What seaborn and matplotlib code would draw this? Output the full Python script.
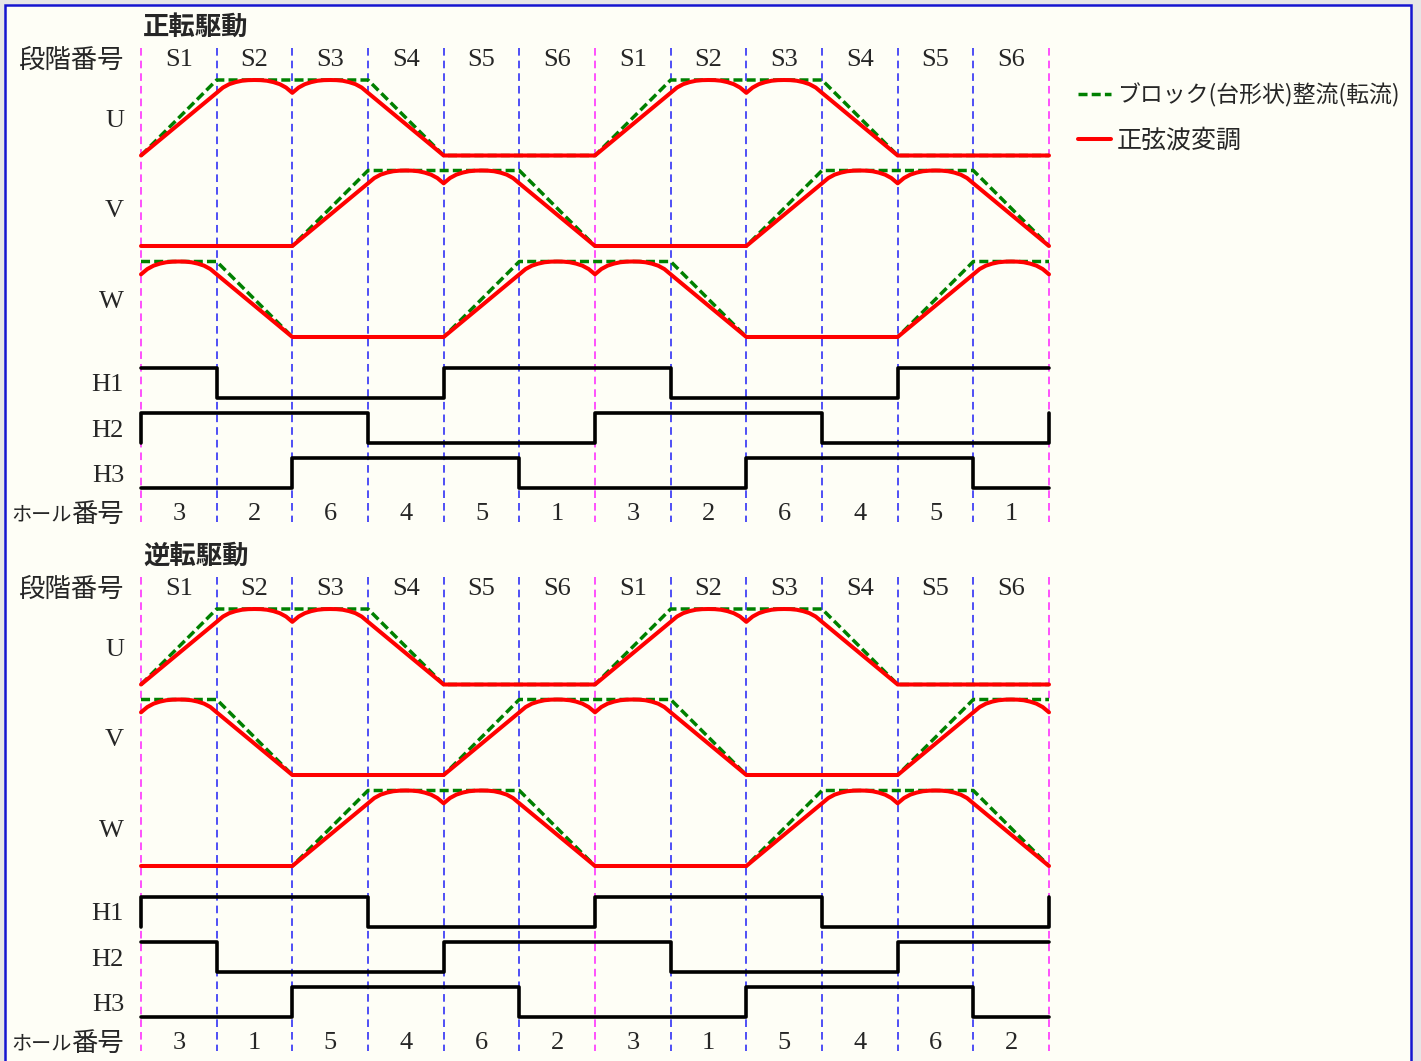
import numpy as np
import pandas as pd
import matplotlib
matplotlib.use("Agg")
import matplotlib.pyplot as plt
from matplotlib.patches import Rectangle
import seaborn as sns

# ---------------- data ----------------
stage_labels = ["S1", "S2", "S3", "S4", "S5", "S6"]
block_titles = ["正転駆動", "逆転駆動"]
phase_names = ["U", "V", "W"]
hall_names = ["H1", "H2", "H3"]
row_label_stage = "段階番号"
row_label_hall_kana = "ホール"
row_label_hall_kanji = "番号"
legend_block = "ブロック(台形状)整流(転流)"
legend_sine = "正弦波変調"

# block (trapezoid) commutation level at stage boundaries 0..6 of one period
trap_fwd_U = [0, 1, 1, 1, 0, 0, 0]
trap_fwd_V = [0, 0, 0, 1, 1, 1, 0]
trap_fwd_W = [1, 1, 0, 0, 0, 1, 1]
trap_rev_U = [0, 1, 1, 1, 0, 0, 0]
trap_rev_V = [1, 1, 0, 0, 0, 1, 1]
trap_rev_W = [0, 0, 0, 1, 1, 1, 0]

# sine modulation waveform (fraction of full swing)
red_ramp_up = [0.0, 0.83]
red_hump = [0.83, 0.90, 0.945, 0.972, 0.99, 0.998, 1.0, 0.998, 0.99, 0.972, 0.945, 0.90, 0.83]
red_ramp_down = [0.83, 0.0]
red_low = [0.0, 0.0]
# stage (0-based) where each phase U, V, W starts rising
rise_stage_fwd = [0, 2, 4]
rise_stage_rev = [0, 4, 2]

# Hall sensor levels for stages S1..S6
hall_fwd_H1 = [1, 0, 0, 0, 1, 1]
hall_fwd_H2 = [1, 1, 1, 0, 0, 0]
hall_fwd_H3 = [0, 0, 1, 1, 1, 0]
hall_rev_H1 = [1, 1, 1, 0, 0, 0]
hall_rev_H2 = [1, 0, 0, 0, 1, 1]
hall_rev_H3 = [0, 0, 1, 1, 1, 0]

hall_no_fwd = [3, 2, 6, 4, 5, 1]
hall_no_rev = [3, 1, 5, 4, 6, 2]

n_periods = 2

# ---------------- style / layout ----------------
sns.set_style("white")
plt.rcParams["font.family"] = ["Noto Sans CJK JP", "DejaVu Sans"]
plt.rcParams["lines.scale_dashes"] = False
plt.rcParams["lines.solid_joinstyle"] = "round"
JP = ["Noto Sans CJK JP", "DejaVu Sans"]
SERIF = ["Liberation Serif", "DejaVu Serif"]

W_PX, H_PX = 1421, 1061
X0_PX, X1_PX = 141, 1049
n_st = 6 * n_periods
spx = (X1_PX - X0_PX) / n_st


def xd(px):
    return (px - X0_PX) / spx


BLOCK_OFF = [0, 529]
WAVE_LO = [155.5, 246, 337]
WAVE_AMP = 75.5
HALL_LO = [397.5, 443, 488]
HALL_AMP = 30
TXT_DY = 2
Y_TITLE, Y_STAGE, Y_HALLNO = 25, 58, 512
WAVE_LABEL_Y = [119, 209, 300]
HALL_LABEL_Y = [383, 429, 474]
VL_TOP, VL_BOT = 48, 522
LABEL_X = 124

red_segments = [red_ramp_up, red_hump, red_hump, red_ramp_down, red_low, red_low]

blocks = [
    dict(title=block_titles[0], trap=[trap_fwd_U, trap_fwd_V, trap_fwd_W],
         rise=rise_stage_fwd, hall=[hall_fwd_H1, hall_fwd_H2, hall_fwd_H3],
         hallno=hall_no_fwd),
    dict(title=block_titles[1], trap=[trap_rev_U, trap_rev_V, trap_rev_W],
         rise=rise_stage_rev, hall=[hall_rev_H1, hall_rev_H2, hall_rev_H3],
         hallno=hall_no_rev),
]

wave_rows, hall_rows = [], []
for bi, blk in enumerate(blocks):
    off = BLOCK_OFF[bi]
    for pi in range(3):
        lo = WAVE_LO[pi] + off
        lv = blk["trap"][pi]
        for b in range(n_st + 1):
            val = lv[b % 6] if b < n_st else lv[6]
            wave_rows.append(dict(x=b, y=lo - WAVE_AMP * val, kind=legend_block,
                                  trace=f"t{bi}{pi}"))
        first = True
        for i in range(n_st):
            seg = red_segments[(i - blk["rise"][pi]) % 6]
            ts = np.linspace(0, 1, len(seg))
            for k, (t, v) in enumerate(zip(ts, seg)):
                if k == 0 and not first:
                    continue
                wave_rows.append(dict(x=i + t, y=lo - WAVE_AMP * v, kind=legend_sine,
                                      trace=f"s{bi}{pi}"))
            first = False
    for hi in range(3):
        lo = HALL_LO[hi] + off
        lv = blk["hall"][hi]
        seq = [lv[i % 6] for i in range(n_st)]
        pts = []
        if lv[-1] != seq[0]:
            pts.append((0, lv[-1]))
        for i, v in enumerate(seq):
            pts += [(i, v), (i + 1, v)]
        if seq[-1] != lv[0]:
            pts.append((n_st, lv[0]))
        for x, v in pts:
            hall_rows.append(dict(x=x, y=lo - HALL_AMP * v, trace=f"h{bi}{hi}"))

wave_df = pd.DataFrame(wave_rows)
hall_df = pd.DataFrame(hall_rows)

fig = plt.figure(figsize=(W_PX / 100, H_PX / 100), dpi=100)
fig.patch.set_facecolor("#E6E6E6")
ax = fig.add_axes([0, 0, 1, 1])
ax.set_xlim(xd(0), xd(W_PX))
ax.set_ylim(H_PX, 0)
ax.axis("off")

# panel background with blue border
ax.add_patch(Rectangle((4.5 / W_PX, -0.05), (1411 - 4.5) / W_PX, 1.05 - 4.5 / H_PX,
                       transform=ax.transAxes, facecolor="#FEFEF6",
                       edgecolor="#1515D0", linewidth=1.8, zorder=0))

# stage boundary lines
for bi in range(2):
    off = BLOCK_OFF[bi]
    for b in range(n_st + 1):
        col = "#FF22FF" if b % 6 == 0 else "#2020F5"
        ax.vlines(b, VL_TOP + off, VL_BOT + off, colors=col, linewidth=1.1,
                  linestyles=(0, (5.5, 3.6)), zorder=1)

sns.lineplot(data=wave_df, x="x", y="y", hue="kind", style="kind", size="kind",
             units="trace", estimator=None, sort=False,
             hue_order=[legend_block, legend_sine],
             palette={legend_block: "#008000", legend_sine: "#FF0000"},
             dashes={legend_block: (6.5, 3.0), legend_sine: ""},
             sizes={legend_block: 2.5, legend_sine: 2.9},
             ax=ax, zorder=3)

sns.lineplot(data=hall_df, x="x", y="y", units="trace", estimator=None, sort=False,
             color="black", linewidth=2.6, legend=False, ax=ax, zorder=3)

ax.set_xlabel("")
ax.set_ylabel("")

# texts
for bi, blk in enumerate(blocks):
    off = BLOCK_OFF[bi] + TXT_DY
    ax.text(xd(143), Y_TITLE + off, blk["title"], fontsize=19, fontweight="bold",
            family=JP, ha="left", va="center")
    ax.text(xd(LABEL_X), Y_STAGE + off, row_label_stage, fontsize=19, family=JP,
            ha="right", va="center")
    ax.text(xd(LABEL_X), Y_HALLNO + off, row_label_hall_kanji, fontsize=19, family=JP,
            ha="right", va="center")
    ax.text(xd(LABEL_X - 52), Y_HALLNO + off + 1, row_label_hall_kana, fontsize=14.5,
            family=JP, ha="right", va="center")
    for i in range(n_st):
        ax.text(i + 0.5, Y_STAGE + off, stage_labels[i % 6], fontsize=19, family=SERIF,
                ha="center", va="center")
        ax.text(i + 0.5, Y_HALLNO + off, str(blk["hallno"][i % 6]), fontsize=19,
                family=SERIF, ha="center", va="center")
    for pi in range(3):
        ax.text(xd(LABEL_X), WAVE_LABEL_Y[pi] + off, phase_names[pi], fontsize=19,
                family=SERIF, ha="right", va="center")
    for hi in range(3):
        ax.text(xd(LABEL_X), HALL_LABEL_Y[hi] + off, hall_names[hi], fontsize=19,
                family=SERIF, ha="right", va="center")

sns.move_legend(ax, "upper left", bbox_to_anchor=(1078 / W_PX, 1 - 83 / H_PX),
                title=None, frameon=False, fontsize=18, handlelength=1.3,
                handletextpad=0.25, labelspacing=0.8, borderpad=0, borderaxespad=0)
leg = ax.get_legend()
leg.get_texts()[0].set_fontsize(16.5)

fig.savefig("out.png", dpi=100, facecolor=fig.get_facecolor())
